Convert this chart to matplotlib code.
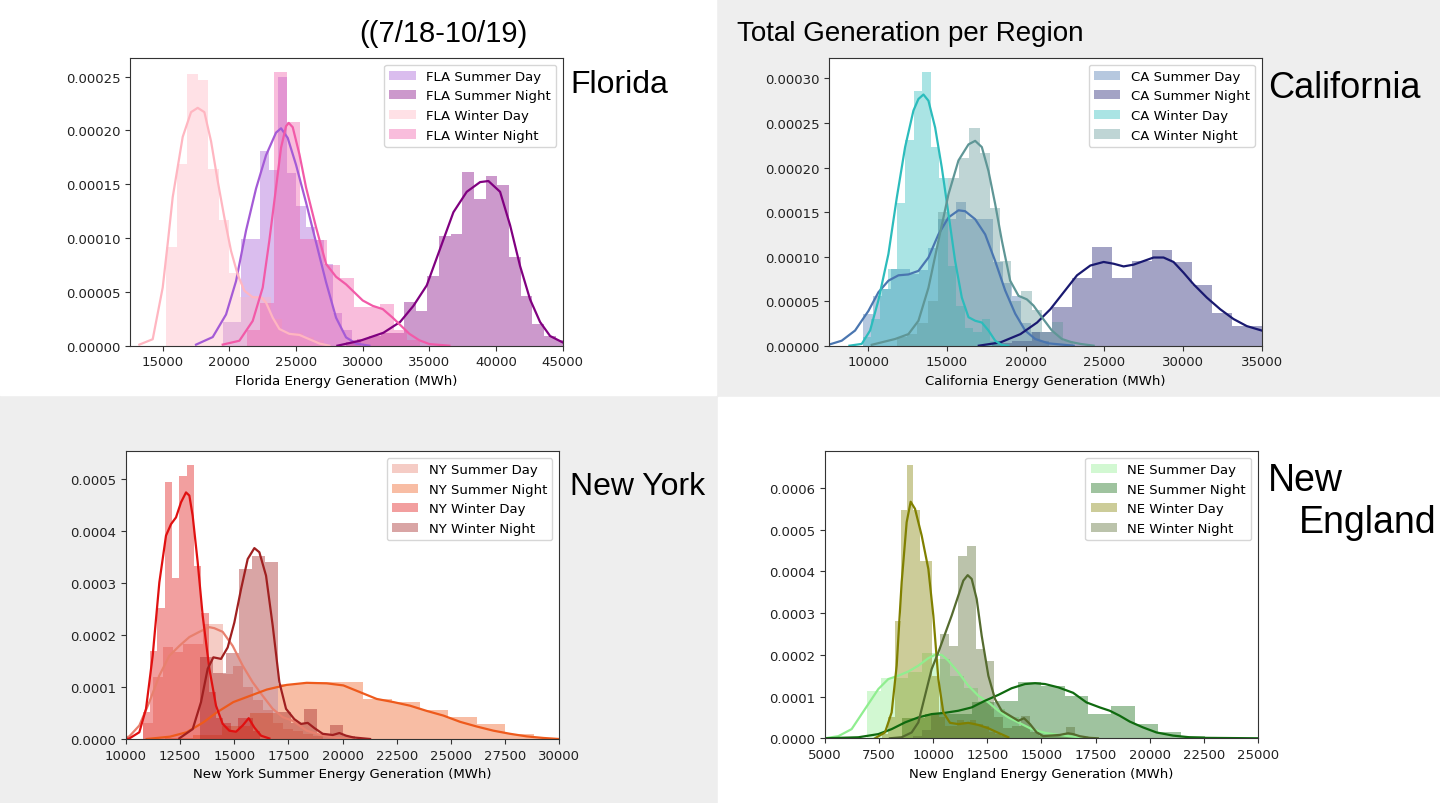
import numpy as np
import matplotlib.pyplot as plt
from matplotlib.patches import Rectangle
from matplotlib.ticker import FormatStrFormatter

plt.rcParams['font.family'] = 'DejaVu Sans'
plt.rcParams['font.size'] = 9.5

# all densities are in units of 1e-5, x values in MWh
# ---------------- Florida ----------------
fla_sd_start, fla_sd_width = 19500, 690
fla_sd_hist = [2.2, 2.2, 9.9, 9.9, 18.1, 16.3, 25.0, 16.0, 13.0, 11.0, 9.8, 7.6, 3.0, 1.5, 0.5]
fla_sd_kde_x = [17500, 18750, 19750, 20500, 21250, 22000, 22750, 23500, 23875, 24375,
                25000, 25750, 26500, 27250, 28000, 28750, 29500, 30500]
fla_sd_kde_y = [0.1, 0.8, 2.9, 6.0, 10.7, 14.6, 17.7, 19.8, 20.2, 19.3,
                16.8, 13.3, 9.6, 5.9, 2.6, 0.77, 0.2, 0]

fla_sn_start, fla_sn_width = 28725, 875
fla_sn_hist = [0.3, 0.6, 0.9, 1.2, 1.2, 4.1, 3.2, 6.5, 10.2, 10.4, 16.1, 13.6, 15.8,
               14.9, 8.2, 4.6, 2.0, 0.9, 0.5]
fla_sn_kde_x = [28100, 29800, 31550, 32800, 33800, 34800, 35800, 36800, 37800, 38800,
                39425, 40300, 41050, 41800, 42550, 43300, 44050, 45000]
fla_sn_kde_y = [0, 0.46, 1.2, 2.2, 3.7, 5.6, 9.0, 12.4, 14.3, 15.2,
                15.3, 14.3, 11.2, 7.4, 4.3, 2.2, 0.9, 0.3]

fla_wd_start, fla_wd_width = 15250, 790
fla_wd_hist = [9.2, 16.9, 25.2, 24.7, 16.4, 11.7, 6.8, 4.5, 4.5, 4.5, 2.5, 1.2, 1.2, 0.8, 0.5]
fla_wd_kde_x = [13250, 14250, 15000, 15375, 15750, 16500, 17125, 17625, 18125, 18625,
                19125, 19625, 20125, 20625, 21125, 21750, 22375, 22750, 23250, 23750,
                24500, 25250, 26000, 26750, 27500]
fla_wd_kde_y = [0.1, 0.6, 5.4, 9.5, 13.8, 19.4, 21.7, 22.1, 21.7, 19.0,
                15.3, 11.9, 8.8, 6.6, 5.1, 4.5, 4.5, 4.0, 2.6, 1.55,
                1.1, 1.0, 0.6, 0.2, 0]

fla_wn_start, fla_wn_width = 21325, 1000
fla_wn_hist = [1.5, 4.0, 25.4, 20.8, 9.9, 9.8, 7.5, 6.3, 3.6, 3.6, 3.9, 1.5, 0.5]
fla_wn_kde_x = [19500, 20750, 21750, 22500, 23000, 23500, 23875, 24250, 24450, 24750,
                25250, 25750, 26500, 27250, 28000, 28750, 29500, 30000, 30750, 31500,
                32250, 32750, 33500, 34250, 35000, 36500]
fla_wn_kde_y = [0.1, 0.46, 2.3, 5.4, 9.8, 14.7, 18.4, 20.4, 20.7, 20.3,
                17.8, 14.7, 11.0, 7.6, 6.4, 5.7, 4.8, 4.2, 3.7, 3.4,
                2.6, 2.0, 1.1, 0.5, 0.15, 0]

# ---------------- California ----------------
ca_sd_start, ca_sd_width = 9690, 590
ca_sd_hist = [3.6, 5.6, 6.4, 8.6, 8.6, 8.0, 8.5, 11.0, 14.2, 14.2, 16.1, 14.2, 14.2,
              14.2, 9.4, 7.0, 5.6, 2.5, 1.5, 0.5]
ca_sd_kde_x = [7460, 8308, 9156, 10004, 10640, 11276, 11912, 12548, 13184, 13820, 14456,
               15092, 15728, 16152, 16788, 17424, 18060, 18696, 19332, 19968, 20604,
               21452, 23050]
ca_sd_kde_y = [0.1, 0.56, 1.7, 3.9, 6.0, 7.3, 7.9, 8.0, 8.4, 9.9, 12.5,
               14.4, 15.2, 15.1, 14.2, 12.5, 9.5, 6.2, 3.6, 1.7, 0.75,
               0.26, 0]

ca_sn_start, ca_sn_width = 17864, 1270
ca_sn_hist = [0.3, 0.5, 1.5, 4.3, 7.6, 11.1, 7.6, 9.5, 10.7, 9.4, 6.8, 3.7, 2.2, 2.2]
ca_sn_kde_x = [17020, 18397, 19666, 20723, 21570, 22415, 23260, 24107, 24953, 25588,
               26222, 26857, 27491, 28126, 28760, 29395, 30029, 30664, 31510, 32356,
               33200, 34050, 35000]
ca_sn_kde_y = [0, 0.37, 1.3, 2.6, 4.1, 6.0, 7.9, 9.0, 9.4, 9.2,
               8.9, 9.1, 9.5, 9.9, 9.9, 9.4, 8.2, 6.9, 5.4, 4.1,
               3.0, 2.2, 1.7]

ca_wd_start, ca_wd_width = 9650, 540
ca_wd_hist = [1.0, 3.0, 6.4, 8.6, 16.0, 23.1, 28.6, 30.7, 22.3, 18.8, 9.0, 4.5, 2.0,
              1.5, 3.0, 0.5]
ca_wd_kde_x = [8800, 9580, 10110, 10640, 11276, 11806, 12336, 12866, 13184, 13502,
               13820, 14244, 14668, 15092, 15516, 15940, 16364, 16788, 17212, 17636,
               18060, 18484, 18900]
ca_wd_kde_y = [0, 0.2, 1.7, 5.1, 10.3, 16.6, 22.3, 26.4, 27.7, 28.2,
               27.5, 24.5, 20.0, 14.8, 9.5, 5.4, 3.2, 2.8, 2.6, 1.7,
               0.56, 0.07, 0]

ca_wn_start, ca_wn_width = 11790, 660
ca_wn_hist = [1.0, 1.3, 2.5, 5.0, 15.0, 18.8, 21.1, 24.4, 21.6, 15.5, 9.5, 5.0, 6.1,
              4.0, 1.5, 2.7, 0.5]
ca_wn_kde_x = [10216, 11700, 12548, 13184, 13820, 14456, 15092, 15728, 16364, 16788,
               17212, 17636, 18060, 18484, 19014, 19544, 20074, 20498, 21028, 21664,
               22300, 22900, 23470, 24320]
ca_wn_kde_y = [0.1, 0.75, 1.3, 2.8, 6.5, 11.8, 17.0, 20.8, 22.6, 23.0,
               22.3, 19.6, 15.9, 11.8, 7.3, 5.6, 5.2, 4.5, 3.2, 1.7,
               0.75, 0.4, 0.2, 0]

# ---------------- New York ----------------
ny_sd_start, ny_sd_width = 10800, 460
ny_sd_hist = [3.0, 12.0, 17.6, 16.7, 18.3, 18.3, 22.1, 22.1, 12.5, 14.0, 10.0, 7.5,
              5.5, 3.0, 2.0, 1.5, 1.0, 0.5]
ny_sd_kde_x = [10000, 10154, 10616, 11078, 11540, 12002, 12464, 12926, 13388, 13850,
               14081, 14466, 14928, 15390, 15852, 16314, 16776, 17238, 17700, 18347,
               18963, 19733, 20500]
ny_sd_kde_y = [0.3, 0.5, 2.6, 7.1, 12.2, 16.0, 17.9, 19.6, 20.6, 21.5,
               21.3, 20.6, 17.9, 14.1, 10.9, 8.3, 5.8, 4.2, 3.5, 1.6,
               0.8, 0.2, 0]

ny_sn_start, ny_sn_width = 11795, 1310
ny_sn_hist = [0.2, 0.8, 2.5, 5.0, 10.6, 10.9, 10.9, 7.7, 7.1, 5.6, 4.2, 2.9, 1.0, 0.2]
ny_sn_kde_x = [10955, 12033, 12803, 13573, 14189, 14959, 15729, 16499, 17423, 18347,
               19271, 20041, 20811, 21581, 22351, 23121, 23891, 24661, 25431, 26201,
               26971, 27741, 28511, 29281, 30000]
ny_sn_kde_y = [0, 0.45, 1.3, 3.2, 5.1, 7.1, 8.3, 9.5, 10.4, 10.8,
               10.7, 10.3, 9.0, 7.7, 7.1, 6.4, 5.4, 4.5, 3.3, 2.4,
               1.6, 1.0, 0.5, 0.2, 0]

ny_wd_start, ny_wd_width = 10770, 339
ny_wd_hist = [5.1, 17.0, 25.1, 49.4, 30.9, 50.6, 52.7, 33.2, 24.2, 9.0, 4.0, 3.0,
              1.5, 4.0, 4.0, 1.5]
ny_wd_kde_x = [10000, 10154, 10616, 10924, 11232, 11540, 11848, 12079, 12310, 12541,
               12772, 12926, 13080, 13311, 13542, 13850, 14158, 14466, 14774, 15082,
               15390, 15667, 15929, 16237, 16622]
ny_wd_kde_y = [0, 0.1, 1.3, 5.8, 16.0, 30.1, 39.1, 41.3, 42.6, 45.5,
               47.4, 46.8, 42.9, 34.0, 23.7, 13.5, 6.4, 2.9, 1.6, 1.4,
               2.6, 4.0, 2.2, 0.64, 0.1]

ny_wn_start, ny_wn_width = 13400, 600
ny_wn_hist = [15.7, 12.7, 16.5, 32.6, 35.1, 34.1, 5.1, 3.0, 5.8, 1.0, 2.6, 0.5]
ny_wn_kde_x = [12464, 13080, 13465, 13773, 14035, 14389, 14697, 15005, 15313, 15621,
               15929, 16160, 16468, 16776, 17084, 17392, 17777, 18085, 18393, 18701,
               19086, 19548, 19856, 20164, 20503, 21273]
ny_wn_kde_y = [0.13, 1.9, 7.1, 13.5, 15.7, 15.4, 17.6, 22.4, 28.8, 34.6,
               36.7, 35.9, 31.4, 21.8, 10.9, 5.8, 3.8, 2.9, 3.1, 2.1,
               1.0, 0.77, 1.15, 0.64, 0.3, 0]

# ---------------- New England ----------------
ne_sd_start, ne_sd_width = 6925, 640
ne_sd_hist = [11.4, 14.4, 14.4, 16.0, 20.4, 19.0, 15.0, 12.0, 9.0, 7.0, 5.0, 3.0,
              1.5, 1.0, 0.5, 0.5]
ne_sd_kde_x = [5000, 5616, 6232, 6848, 7464, 7926, 8388, 8850, 9312, 9774, 10082,
               10390, 10698, 11160, 11622, 12084, 12546, 13008, 13470, 13932, 14548,
               15164, 15780, 16462, 17077]
ne_sd_kde_y = [0, 0.5, 2.2, 7.0, 11.8, 14.2, 15.0, 16.0, 17.4, 19.2, 20.0,
               20.0, 18.6, 15.8, 12.6, 10.2, 8.6, 6.6, 5.0, 3.8, 2.2,
               1.3, 0.8, 0.4, 0.1]

ne_sn_start, ne_sn_width = 8538, 1077
ne_sn_hist = [4.8, 5.8, 5.8, 8.6, 9.0, 13.6, 12.5, 10.2, 5.8, 7.8, 3.4, 1.4, 0.5, 0.2]
ne_sn_kde_x = [5000, 6540, 7464, 8080, 8696, 9312, 9928, 10544, 11160, 11776, 12392,
               13008, 13624, 14240, 14702, 15164, 15780, 16462, 17077, 17692, 18154,
               18615, 19077, 19692, 20308, 21077, 21846, 22615, 25000]
ne_sn_kde_y = [0, 0.24, 1.0, 2.2, 3.8, 5.0, 5.8, 6.1, 6.6, 7.4, 9.0,
               10.4, 12.0, 13.0, 13.2, 13.0, 12.2, 10.9, 8.6, 7.4, 6.6,
               5.4, 4.0, 2.6, 1.4, 0.64, 0.24, 0.1, 0]

ne_wd_start, ne_wd_width = 7638, 290
ne_wd_hist = [1.0, 5.0, 28.0, 54.6, 65.5, 54.6, 42.6, 42.6, 15.0, 5.0, 3.0, 3.0,
              4.5, 4.0, 4.5, 3.5, 3.0, 1.5, 1.0, 0.5]
ne_wd_kde_x = [7310, 7772, 8080, 8311, 8542, 8773, 8958, 9158, 9466, 9774, 10005,
               10236, 10467, 10775, 11160, 11622, 12084, 12546, 13008, 13470]
ne_wd_kde_y = [0, 1.4, 6.2, 17.4, 37.4, 51.8, 56.7, 55.0, 48.6, 40.6, 29.4,
               14.2, 6.2, 3.7, 3.4, 3.7, 3.2, 2.4, 1.3, 0.24]

ne_wn_start, ne_wn_width = 9079, 415
ne_wn_hist = [0.5, 2.0, 6.0, 25.0, 22.0, 43.6, 46.2, 21.4, 18.6, 5.0, 2.5, 3.0, 5.4,
              1.5, 0.5, 0.5, 0.5, 2.6, 0.5]
ne_wn_kde_x = [8000, 8542, 9004, 9312, 9620, 9928, 10236, 10544, 10852, 11160, 11391,
               11591, 11776, 12007, 12238, 12546, 12854, 13162, 13547, 13932, 14194,
               14471, 14779, 15087, 15385, 15846, 16231, 16462, 16770, 17231, 17600]
ne_wn_kde_y = [0, 0.24, 1.4, 3.8, 10.2, 16.6, 20.6, 25.0, 29.4, 34.2, 37.8,
               39.1, 38.2, 33.4, 24.6, 15.0, 9.4, 6.6, 5.4, 4.2, 4.8,
               3.4, 1.4, 0.5, 0.64, 0.8, 1.2, 1.0, 0.5, 0.1, 0]


def draw_series(ax, start, width, hist, kde_x, kde_y, color, label):
    edges = start + width * np.arange(len(hist) + 1)
    ax.stairs(np.array(hist) * 1e-5, edges, fill=True, color=color, alpha=0.4,
              linewidth=0, label=label)
    ax.plot(kde_x, np.array(kde_y) * 1e-5, color=color, linewidth=1.6,
            solid_joinstyle='round')


def style_axes(ax, xlim, xticks, ylim, yticks, yfmt, xlabel):
    ax.set_facecolor('white')
    ax.set_xlim(xlim)
    ax.set_ylim(ylim)
    ax.set_xticks(xticks)
    ax.set_yticks(yticks)
    ax.yaxis.set_major_formatter(FormatStrFormatter(yfmt))
    ax.set_xlabel(xlabel, fontsize=9.5)
    ax.tick_params(labelsize=9.5, color='#333333', labelcolor='#222222')
    for s in ax.spines.values():
        s.set_color('#333333')
    ax.legend(loc='upper right', fontsize=9.5)


fig = plt.figure(figsize=(14.4, 8.04), dpi=100)
fig.patch.set_facecolor('#eeeeee')
fig.add_artist(Rectangle((0, 1 - 396 / 804), 716 / 1440, 396 / 804,
                         transform=fig.transFigure, color='white', zorder=0))
fig.add_artist(Rectangle((718 / 1440, 0), 1 - 718 / 1440, 1 - 398 / 804,
                         transform=fig.transFigure, color='white', zorder=0))

# Florida
ax1 = fig.add_axes([0.0903, 0.5688, 0.3005, 0.3578])
draw_series(ax1, fla_sd_start, fla_sd_width, fla_sd_hist, fla_sd_kde_x, fla_sd_kde_y, '#a45bd6', 'FLA Summer Day')
draw_series(ax1, fla_sn_start, fla_sn_width, fla_sn_hist, fla_sn_kde_x, fla_sn_kde_y, '#800080', 'FLA Summer Night')
draw_series(ax1, fla_wd_start, fla_wd_width, fla_wd_hist, fla_wd_kde_x, fla_wd_kde_y, '#ffb6c1', 'FLA Winter Day')
draw_series(ax1, fla_wn_start, fla_wn_width, fla_wn_hist, fla_wn_kde_x, fla_wn_kde_y, '#f25aa8', 'FLA Winter Night')
style_axes(ax1, (12550, 45000), range(15000, 45001, 5000), (0, 0.0002673),
           np.arange(0, 0.00026, 0.00005), '%.5f', 'Florida Energy Generation (MWh)')

# California
ax2 = fig.add_axes([0.5757, 0.5688, 0.3005, 0.3578])
draw_series(ax2, ca_sd_start, ca_sd_width, ca_sd_hist, ca_sd_kde_x, ca_sd_kde_y, '#4a76b0', 'CA Summer Day')
draw_series(ax2, ca_sn_start, ca_sn_width, ca_sn_hist, ca_sn_kde_x, ca_sn_kde_y, '#191970', 'CA Summer Night')
draw_series(ax2, ca_wd_start, ca_wd_width, ca_wd_hist, ca_wd_kde_x, ca_wd_kde_y, '#2cbcbc', 'CA Winter Day')
draw_series(ax2, ca_wn_start, ca_wn_width, ca_wn_hist, ca_wn_kde_x, ca_wn_kde_y, '#5f9696', 'CA Winter Night')
style_axes(ax2, (7500, 35000), range(10000, 35001, 5000), (0, 0.000323),
           np.arange(0, 0.00031, 0.00005), '%.5f', 'California Energy Generation (MWh)')

# New York
ax3 = fig.add_axes([0.0875, 0.0796, 0.3007, 0.3578])
draw_series(ax3, ny_sd_start, ny_sd_width, ny_sd_hist, ny_sd_kde_x, ny_sd_kde_y, '#e8806e', 'NY Summer Day')
draw_series(ax3, ny_sn_start, ny_sn_width, ny_sn_hist, ny_sn_kde_x, ny_sn_kde_y, '#ee5a1c', 'NY Summer Night')
draw_series(ax3, ny_wd_start, ny_wd_width, ny_wd_hist, ny_wd_kde_x, ny_wd_kde_y, '#e01010', 'NY Winter Day')
draw_series(ax3, ny_wn_start, ny_wn_width, ny_wn_hist, ny_wn_kde_x, ny_wn_kde_y, '#a02020', 'NY Winter Night')
style_axes(ax3, (10000, 30000), range(10000, 30001, 2500), (0, 0.000553),
           np.arange(0, 0.00051, 0.0001), '%.4f', 'New York Summer Energy Generation (MWh)')

# New England
ax4 = fig.add_axes([0.5729, 0.0805, 0.3007, 0.3570])
draw_series(ax4, ne_sd_start, ne_sd_width, ne_sd_hist, ne_sd_kde_x, ne_sd_kde_y, '#90ee90', 'NE Summer Day')
draw_series(ax4, ne_sn_start, ne_sn_width, ne_sn_hist, ne_sn_kde_x, ne_sn_kde_y, '#0f6a0f', 'NE Summer Night')
draw_series(ax4, ne_wd_start, ne_wd_width, ne_wd_hist, ne_wd_kde_x, ne_wd_kde_y, '#808000', 'NE Winter Day')
draw_series(ax4, ne_wn_start, ne_wn_width, ne_wn_hist, ne_wn_kde_x, ne_wn_kde_y, '#556b2f', 'NE Winter Night')
style_axes(ax4, (5000, 25000), range(5000, 25001, 2500), (0, 0.000688),
           np.arange(0, 0.00061, 0.0001), '%.4f', 'New England Energy Generation (MWh)')

# headings and region names
head = dict(family='Liberation Sans', color='black', va='center')
fig.text(443 / 1440, 1 - 34 / 804, '((7/18-10/19)', fontsize=21, ha='center', **head)
fig.text(737 / 1440, 1 - 34 / 804, 'Total Generation per Region', fontsize=20, ha='left', **head)
fig.text(570 / 1440, 1 - 85 / 804, 'Florida', fontsize=23, ha='left', **head)
fig.text(1268 / 1440, 1 - 88 / 804, 'California', fontsize=26, ha='left', **head)
fig.text(570 / 1440, 1 - 487 / 804, 'New York', fontsize=23, ha='left', **head)
fig.text(1268 / 1440, 1 - 481 / 804, 'New', fontsize=27, ha='left', **head)
fig.text(1299 / 1440, 1 - 523 / 804, 'England', fontsize=27, ha='left', **head)

fig.savefig('out.png', dpi=100, facecolor=fig.get_facecolor())
